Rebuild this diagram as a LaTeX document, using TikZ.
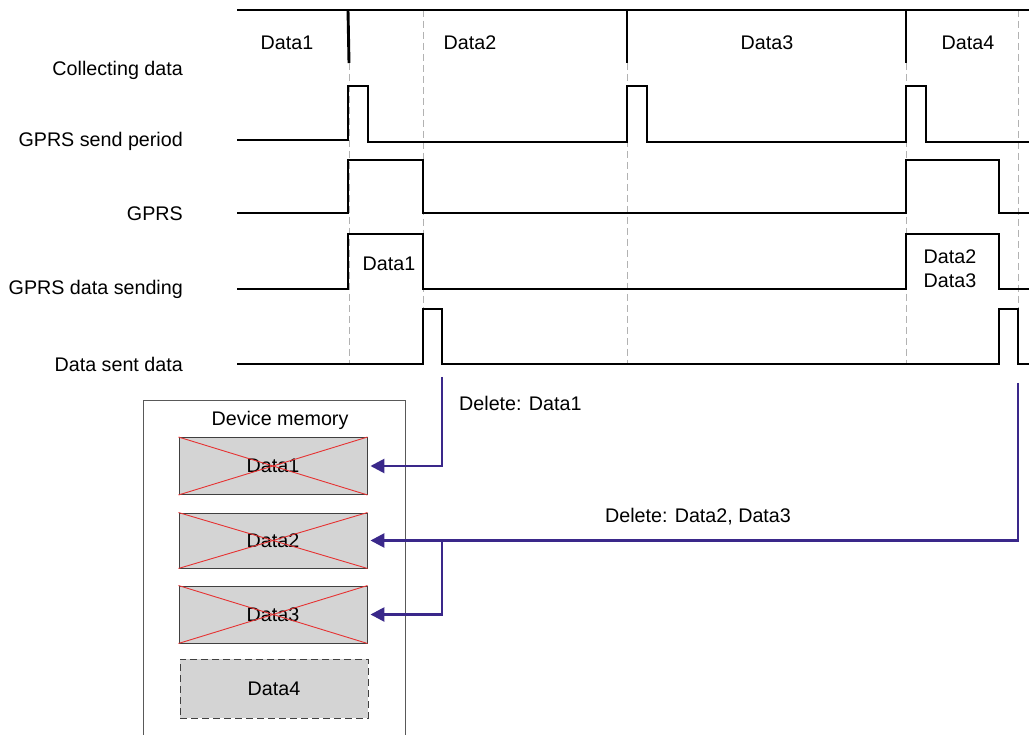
\documentclass[tikz,border=0pt]{standalone}
\usepackage{fontspec}
\setmainfont{Liberation Sans}
\usetikzlibrary{arrows.meta}
\definecolor{arrowc}{RGB}{58,40,138}
\definecolor{boxfill}{RGB}{212,212,212}
\definecolor{crossred}{RGB}{230,50,50}
\tikzset{
  sig/.style={line width=2.9pt, black, line join=miter},
  guide/.style={draw=gray!60, dashed, dash pattern=on 7pt off 4pt, line width=0.9pt},
  lbl/.style={anchor=east, inner sep=0pt, font=\fontsize{19.7}{23}\selectfont},
  txt/.style={inner sep=0pt, font=\fontsize{19.7}{23}\selectfont},
  mem/.style={draw=black!75, fill=boxfill, line width=0.9pt, minimum width=188pt, inner sep=0pt, font=\fontsize{19.7}{23}\selectfont},
  cross/.style={draw=crossred, line width=0.9pt},
  delarrow/.style={draw=arrowc, line width=2.6pt, -{Triangle[length=14pt,width=14pt]}},
  delline/.style={draw=arrowc, line width=2.6pt}
}
\begin{document}
\begin{tikzpicture}[x=1pt,y=-1pt]
\useasboundingbox (0,0) rectangle (1029,735);
\fill[white] (0,0) rectangle (1029,735);

% guides
\draw[guide] (349,63) -- (349,365);
\draw[guide] (423,10) -- (423,365);
\draw[guide] (627,63) -- (627,365);
\draw[guide] (906,63) -- (906,365);
\draw[guide] (1018,10) -- (1018,365);

% row labels
\node[lbl] (lcol) at (183,70) {Collecting data};
\node[lbl] (lsend) at (183,141) {GPRS send period};
\node[lbl] (lgprs) at (183,214) {GPRS};
\node[lbl] (ldata) at (183,289) {GPRS data sending};
\node[lbl] (lsent) at (183,364) {Data sent data};

% collecting data
\draw[sig] (237,10) -- (1029,10);
\draw[sig] (348,10) -- (349,63);
\draw[sig] (627,10) -- (627,63);
\draw[sig] (906,10) -- (906,63);
\node[txt] (c1) at (287,43) {Data1};
\node[txt] (c2) at (470,43) {Data2};
\node[txt] (c3) at (767,43) {Data3};
\node[txt] (c4) at (968,43) {Data4};

% GPRS send period
\draw[sig] (237,140) -- (348,140) -- (348,86) -- (368,86) -- (368,142) -- (627,142) -- (627,86) -- (647,86) -- (647,142) -- (906,142) -- (906,86) -- (926,86) -- (926,142) -- (1029,142);

% GPRS
\draw[sig] (237,213) -- (348,213) -- (348,160) -- (423,160) -- (423,213) -- (906,213) -- (906,160) -- (999,160) -- (999,213) -- (1029,213);

% GPRS data sending
\draw[sig] (237,289) -- (348,289) -- (348,234) -- (423,234) -- (423,289) -- (906,289) -- (906,234) -- (999,234) -- (999,289) -- (1029,289);
\node[txt] (s1) at (389,264) {Data1};
\node[txt] (s2) at (950,257) {Data2};
\node[txt] (s3) at (950,281) {Data3};

% Data sent data
\draw[sig] (237,364) -- (423,364) -- (423,309) -- (442,309) -- (442,364) -- (999,364) -- (999,309) -- (1018,309) -- (1018,364) -- (1029,364);

% memory
\draw[draw=black!65, line width=0.9pt] (143,740) -- (143,400) -- (405,400) -- (405,740);
\node[txt] (memt) at (280,420) {Device memory};
\node[mem, minimum height=57pt] (d1) at (273,466) {Data1};
\node[mem, minimum height=55pt] (d2) at (273,540.5) {Data2};
\node[mem, minimum height=57pt] (d3) at (273,614.5) {Data3};
\node[mem, dashed, dash pattern=on 7pt off 4pt, minimum height=59pt] (d4) at (274,688.5) {Data4};
\foreach \b in {d1,d2,d3}{
  \draw[cross] (\b.north west) -- (\b.south east);
  \draw[cross] (\b.south west) -- (\b.north east);
}

% delete arrows
\coordinate (a1s) at (442,377);
\coordinate (a1c) at (442,466);
\draw[delarrow] (a1s) -- (a1c) -- ([xshift=3pt]d1.east);
\node[txt, anchor=west] (del1) at (459,403) {Delete: Data1};

\coordinate (a2s) at (1018,383);
\coordinate (a2c) at (1018,540.5);
\coordinate (a2b) at (442,540.5);
\coordinate (a3c) at (442,614.5);
\draw[delarrow] (a2s) -- (a2c) -- ([xshift=3pt]d2.east);
\draw[delarrow] (a2b) -- (a3c) -- ([xshift=3pt]d3.east);
\node[txt] (del2) at (698,517) {Delete: Data2, Data3};
\end{tikzpicture}
\end{document}
